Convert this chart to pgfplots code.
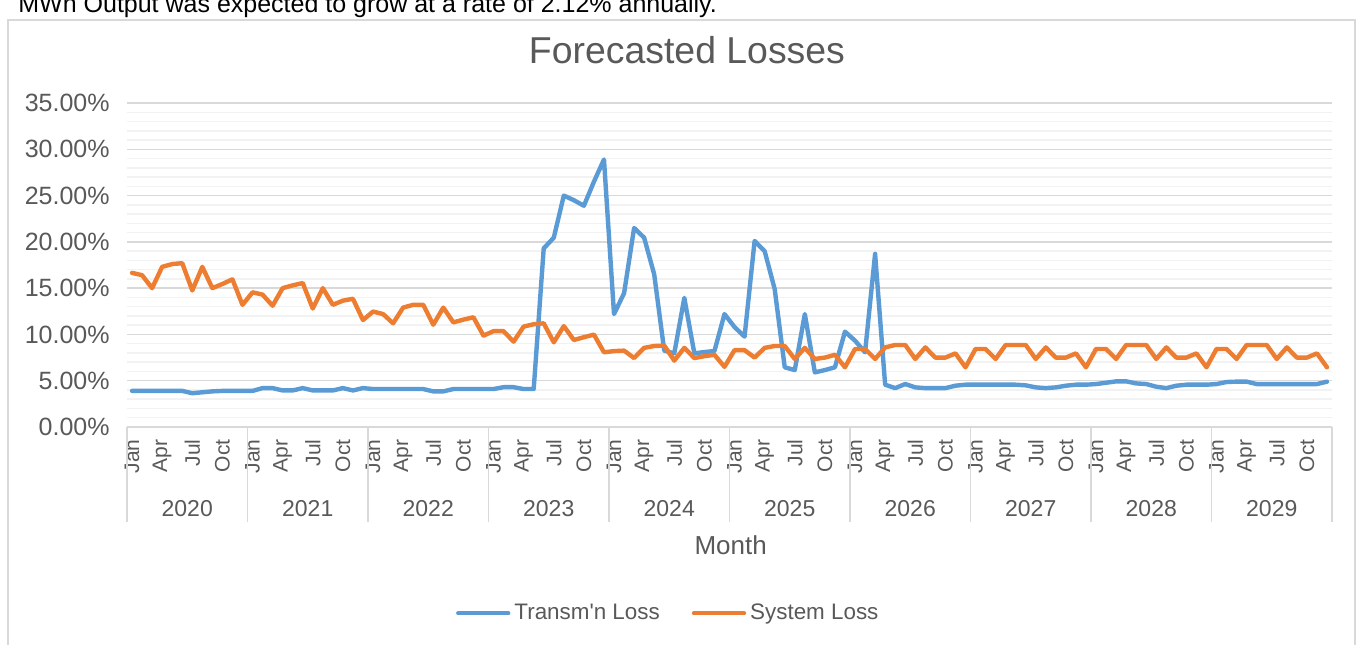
\documentclass[border=0pt]{standalone}
\usepackage{fontspec}
\setmainfont{Liberation Sans}
\usepackage{pgfplots}
\usepackage{pgfplotstable}
\pgfplotsset{compat=1.18}
\definecolor{txtGray}{HTML}{595959}
\definecolor{gridMajor}{HTML}{D9D9D9}
\definecolor{gridMinor}{HTML}{F2F2F2}
\definecolor{lossBlue}{HTML}{5B9BD5}
\definecolor{lossOrange}{HTML}{ED7D31}

% month index (0 = Jan 2020), transmission loss %, system loss %
\pgfplotstableread[row sep=\\]{
m tl sl\\
0 3.90 16.65\\ 1 3.90 16.40\\ 2 3.90 15.00\\ 3 3.90 17.30\\ 4 3.90 17.60\\ 5 3.90 17.70\\
6 3.65 14.75\\ 7 3.75 17.30\\ 8 3.85 15.00\\ 9 3.90 15.45\\ 10 3.90 15.95\\ 11 3.90 13.20\\
12 3.90 14.55\\ 13 4.20 14.30\\ 14 4.20 13.10\\ 15 3.95 15.00\\ 16 3.95 15.30\\ 17 4.20 15.55\\
18 3.95 12.80\\ 19 3.95 15.00\\ 20 3.95 13.20\\ 21 4.20 13.65\\ 22 3.95 13.85\\ 23 4.20 11.55\\
24 4.10 12.47\\ 25 4.10 12.20\\ 26 4.10 11.20\\ 27 4.10 12.90\\ 28 4.10 13.20\\ 29 4.10 13.20\\
30 3.85 11.05\\ 31 3.85 12.90\\ 32 4.10 11.30\\ 33 4.10 11.60\\ 34 4.10 11.85\\ 35 4.10 9.87\\
36 4.10 10.35\\ 37 4.30 10.35\\ 38 4.30 9.22\\ 39 4.10 10.85\\ 40 4.10 11.10\\ 41 19.30 11.20\\
42 20.45 9.15\\ 43 25.00 10.90\\ 44 24.50 9.40\\ 45 23.90 9.70\\ 46 26.50 9.98\\ 47 28.90 8.07\\
48 12.20 8.20\\ 49 14.45 8.25\\ 50 21.50 7.45\\ 51 20.45 8.55\\ 52 16.50 8.75\\ 53 8.25 8.80\\
54 7.95 7.17\\ 55 13.95 8.55\\ 56 7.95 7.45\\ 57 8.10 7.65\\ 58 8.20 7.80\\ 59 12.20 6.50\\
60 10.80 8.30\\ 61 9.76 8.30\\ 62 20.10 7.50\\ 63 19.00 8.55\\ 64 14.90 8.75\\ 65 6.45 8.75\\
66 6.15 7.35\\ 67 12.20 8.55\\ 68 5.90 7.35\\ 69 6.15 7.50\\ 70 6.45 7.80\\ 71 10.30 6.45\\
72 9.33 8.43\\ 73 8.07 8.43\\ 74 18.70 7.35\\ 75 4.57 8.60\\ 76 4.20 8.86\\ 77 4.64 8.86\\
78 4.28 7.35\\ 79 4.20 8.60\\ 80 4.20 7.50\\ 81 4.20 7.50\\ 82 4.46 7.95\\ 83 4.57 6.45\\
84 4.57 8.43\\ 85 4.57 8.43\\ 86 4.57 7.35\\ 87 4.57 8.86\\ 88 4.57 8.86\\ 89 4.50 8.86\\
90 4.28 7.35\\ 91 4.20 8.60\\ 92 4.28 7.50\\ 93 4.46 7.50\\ 94 4.57 7.95\\ 95 4.57 6.45\\
96 4.64 8.43\\ 97 4.78 8.43\\ 98 4.93 7.35\\ 99 4.93 8.86\\ 100 4.71 8.86\\ 101 4.64 8.86\\
102 4.35 7.35\\ 103 4.20 8.60\\ 104 4.46 7.50\\ 105 4.57 7.50\\ 106 4.57 7.95\\ 107 4.57 6.45\\
108 4.64 8.43\\ 109 4.86 8.43\\ 110 4.90 7.35\\ 111 4.90 8.86\\ 112 4.64 8.86\\ 113 4.64 8.86\\
114 4.64 7.35\\ 115 4.64 8.60\\ 116 4.64 7.50\\ 117 4.64 7.50\\ 118 4.64 7.95\\ 119 4.90 6.45\\
}\losses

\begin{document}
\begin{tikzpicture}
\path[use as bounding box] (0,0) rectangle (681pt,322pt);
% text of the page above the chart, cut off by the page edge
\node[anchor=base west,inner sep=0pt,font=\fontsize{12.5}{14}\selectfont,text=black]
  at (9pt,315.5pt) {MWh Output was expected to grow at a rate of 2.12\% annually.};
% chart frame
\draw[gridMajor,line width=0.75pt,fill=white] (4pt,-5pt) rectangle (677.5pt,312pt);

\begin{axis}[
  scale only axis, at={(63.5pt,108.5pt)}, anchor=south west,
  width=602.5pt, height=162pt,
  xmin=-0.5, xmax=119.5, ymin=0, ymax=35,
  axis x line*=bottom, axis y line*=left,
  x axis line style={gridMajor,line width=0.75pt},
  y axis line style={draw=none},
  major tick length=0pt, minor tick length=0pt,
  ytick={0,5,...,35}, minor y tick num=4,
  ymajorgrids, yminorgrids,
  major grid style={gridMajor,line width=0.75pt},
  minor grid style={gridMinor,line width=0.75pt},
  /pgf/number format/assume math mode=true,
  yticklabel={\pgfmathprintnumber[fixed,fixed zerofill,precision=2]{\tick}\%},
  yticklabel style={font=\fontsize{12.5}{14}\selectfont,text=txtGray,anchor=east,inner sep=0pt},
  yticklabel shift=8.5pt,
  xtick={0,3,...,117},
  xticklabels={Jan,Apr,Jul,Oct,Jan,Apr,Jul,Oct,Jan,Apr,Jul,Oct,Jan,Apr,Jul,Oct,
    Jan,Apr,Jul,Oct,Jan,Apr,Jul,Oct,Jan,Apr,Jul,Oct,Jan,Apr,Jul,Oct,
    Jan,Apr,Jul,Oct,Jan,Apr,Jul,Oct},
  xticklabel style={font=\fontsize{10.5}{12}\selectfont,text=txtGray,rotate=90,anchor=east,inner sep=0pt},
  xticklabel shift=6pt,
  title={Forecasted Losses},
  title style={at={(axis description cs:0.4647,1.1266)},anchor=center,yshift=0pt,
    font=\fontsize{18.7}{22}\selectfont,text=txtGray},
  xlabel={Month},
  xlabel style={at={(axis description cs:0.501,-0.364)},anchor=center,
    font=\fontsize{13}{15}\selectfont,text=txtGray},
  legend columns=2,
  legend style={at={(axis description cs:0.450,-0.575)},anchor=center,
    draw=none,fill=none,font=\fontsize{11.2}{13}\selectfont,text=txtGray,
    /tikz/column 2/.style={column sep=14pt}},
  legend image code/.code={\draw[#1,line width=2.2pt,line cap=round] (0pt,0pt) -- (25pt,0pt);},
  clip=false,
]
\addplot[lossBlue,line width=2.2pt,line join=round,line cap=round] table[x=m,y=tl] {\losses};
\addlegendentry{Transm\textquotesingle n Loss}
\addplot[lossOrange,line width=2.2pt,line join=round,line cap=round] table[x=m,y=sl] {\losses};
\addlegendentry{System Loss}
\end{axis}

% year dividers and year labels of the two-level category axis
\foreach \k in {0,...,10}
  \draw[gridMajor,line width=0.75pt] ({63.5pt+60.25pt*\k},108.5pt) -- ({63.5pt+60.25pt*\k},61pt);
\foreach \k in {0,...,9}{
  \pgfmathtruncatemacro{\yr}{2020+\k}
  \node[font=\fontsize{11.5}{13}\selectfont,text=txtGray] at ({93.625pt+60.25pt*\k},67.5pt) {\yr};
}
\end{tikzpicture}
\end{document}
